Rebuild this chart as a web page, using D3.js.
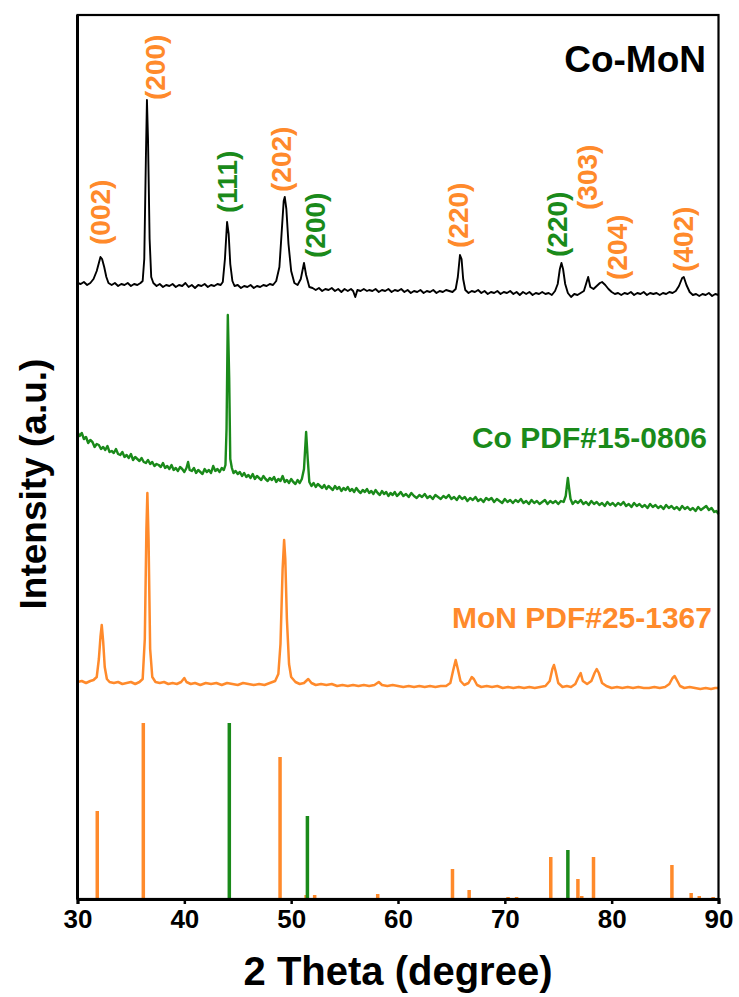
<!DOCTYPE html>
<html><head><meta charset="utf-8">
<script src="https://cdn.jsdelivr.net/npm/d3@7"></script>
<style>
html,body{margin:0;padding:0;background:#fff;}
svg{display:block;font-family:"Liberation Sans",Arial,sans-serif;font-weight:bold;}
</style></head>
<body><svg id="c" width="739" height="997"></svg>
<script>
// ---- data (2θ in degree, intensity in arbitrary stacked units) ----
const xTicks = [30, 40, 50, 60, 70, 80, 90];
const xTitle = "2 Theta (degree)";
const yTitle = "Intensity (a.u.)";
const colorMoN = "#FF8A2B", colorCo = "#1A8A1A", colorCoMoN = "#000000";

const coMoN = [[30.0,616],[30.3,615],[30.6,617],[30.9,614],[31.2,616],[31.5,620],[31.8,628],[32.0,636],[32.15,642],[32.3,640],[32.5,632],[32.7,622],[32.9,616],[33.2,614],[33.5,616],[33.8,613],[34.1,615],[34.4,614],[34.7,616],[35.0,613],[35.3,615],[35.6,614],[35.9,616],[36.1,618],[36.25,640],[36.4,740],[36.5,799],[36.6,760],[36.75,660],[36.9,622],[37.1,616],[37.4,613],[37.7,615],[38.0,612],[38.3,614],[38.6,613],[38.9,615],[39.2,612],[39.5,614],[39.8,613],[40.1,616],[40.4,612],[40.7,614],[41.0,611],[41.3,614],[41.6,613],[41.9,615],[42.2,612],[42.5,614],[42.8,613],[43.1,615],[43.4,614],[43.6,617],[43.8,640],[44.0,677],[44.15,665],[44.3,635],[44.5,618],[44.7,613],[45.0,614],[45.3,611],[45.6,613],[45.9,612],[46.2,614],[46.5,611],[46.8,613],[47.1,612],[47.4,614],[47.7,613],[48.0,615],[48.3,614],[48.6,618],[48.9,632],[49.1,665],[49.3,698],[49.4,702],[49.55,690],[49.75,655],[50.0,628],[50.3,616],[50.6,614],[50.9,620],[51.2,636],[51.4,624],[51.7,612],[52.0,611],[52.3,609],[52.6,611],[52.9,608],[53.2,610],[53.5,609],[53.8,611],[54.1,608],[54.4,610],[54.7,607],[55.0,610],[55.3,608],[55.6,610],[55.8,608],[56.0,602],[56.2,609],[56.5,608],[56.8,610],[57.1,608],[57.3,609],[57.6,608],[57.9,610],[58.2,607],[58.5,609],[58.8,608],[59.1,610],[59.4,607],[59.7,609],[60.0,608],[60.3,610],[60.6,607],[60.9,609],[61.2,606],[61.5,608],[61.8,607],[62.1,609],[62.4,606],[62.7,608],[63.0,607],[63.3,609],[63.6,606],[63.9,608],[64.2,607],[64.5,609],[64.8,608],[65.1,607],[65.4,610],[65.6,622],[65.8,644],[65.95,640],[66.1,620],[66.3,609],[66.6,606],[66.9,608],[67.2,607],[67.5,609],[67.8,606],[68.1,608],[68.4,605],[68.7,607],[69.0,606],[69.3,608],[69.6,605],[69.9,607],[70.2,606],[70.5,608],[70.8,605],[71.1,607],[71.4,604],[71.7,607],[72.0,605],[72.3,607],[72.6,604],[72.9,606],[73.2,605],[73.5,607],[73.8,605],[74.1,606],[74.4,604],[74.7,608],[74.95,615],[75.15,630],[75.3,636],[75.45,630],[75.65,615],[75.9,606],[76.2,602],[76.5,605],[76.8,604],[77.1,606],[77.4,608],[77.6,615],[77.8,622],[78.0,612],[78.3,610],[78.6,613],[78.9,616],[79.1,617],[79.4,614],[79.7,610],[80.0,607],[80.3,605],[80.6,606],[80.9,604],[81.2,606],[81.5,605],[81.8,607],[82.1,604],[82.4,606],[82.7,605],[83.0,607],[83.3,604],[83.6,606],[83.9,605],[84.2,606],[84.5,604],[84.8,606],[85.1,605],[85.4,607],[85.7,606],[86.0,608],[86.3,613],[86.6,621],[86.75,622],[87.0,614],[87.3,607],[87.6,604],[87.9,605],[88.2,603],[88.5,605],[88.8,604],[89.1,606],[89.4,603],[89.7,605],[90.0,604]];

const coRef = [[30.0,467],[30.2,463],[30.4,466],[30.6,460],[30.8,462],[31.0,456],[31.2,459],[31.4,457],[31.6,452],[31.8,455],[32.0,454],[32.2,450],[32.4,452],[32.6,449],[32.8,453],[33.0,447],[33.2,448],[33.4,446],[33.6,450],[33.8,445],[34.0,444],[34.2,447],[34.4,442],[34.6,444],[34.8,441],[35.0,445],[35.2,439],[35.4,442],[35.6,440],[35.8,438],[36.0,441],[36.2,437],[36.4,436],[36.6,439],[36.8,435],[37.0,437],[37.2,433],[37.4,435],[37.6,434],[37.8,432],[38.0,436],[38.2,431],[38.4,433],[38.6,430],[38.8,434],[39.0,429],[39.2,431],[39.4,428],[39.6,432],[39.8,430],[40.0,427],[40.2,431],[40.35,437],[40.5,429],[40.7,428],[40.9,431],[41.1,426],[41.3,429],[41.5,427],[41.7,425],[41.9,430],[42.1,427],[42.3,429],[42.5,426],[42.7,433],[42.9,428],[43.1,430],[43.3,427],[43.5,431],[43.7,429],[43.85,434],[43.95,470],[44.07,584],[44.2,520],[44.3,440],[44.45,431],[44.6,426],[44.8,428],[45.0,425],[45.2,427],[45.4,423],[45.6,426],[45.8,422],[46.0,424],[46.2,421],[46.4,425],[46.6,420],[46.8,423],[47.0,421],[47.2,419],[47.4,423],[47.6,420],[47.8,418],[48.0,421],[48.2,419],[48.4,422],[48.6,417],[48.8,420],[49.0,418],[49.2,423],[49.4,417],[49.6,419],[49.8,416],[50.0,420],[50.2,417],[50.4,415],[50.6,419],[50.8,416],[51.0,420],[51.2,430],[51.4,467],[51.55,440],[51.7,417],[51.9,413],[52.1,416],[52.3,412],[52.5,415],[52.7,413],[52.9,411],[53.1,414],[53.3,410],[53.5,413],[53.7,411],[53.9,409],[54.1,413],[54.3,410],[54.5,412],[54.7,408],[54.9,411],[55.1,409],[55.3,412],[55.5,408],[55.7,410],[55.9,407],[56.1,411],[56.3,408],[56.5,406],[56.7,409],[56.9,407],[57.1,410],[57.3,406],[57.5,408],[57.7,405],[57.9,409],[58.1,406],[58.3,404],[58.5,408],[58.7,405],[58.9,407],[59.1,403],[59.3,406],[59.5,404],[59.7,407],[59.9,403],[60.1,405],[60.25,407],[60.5,403],[60.75,405],[61.0,402],[61.25,406],[61.5,403],[61.75,401],[62.0,404],[62.25,402],[62.5,405],[62.75,401],[63.0,403],[63.25,400],[63.5,404],[63.75,402],[64.0,400],[64.25,403],[64.5,401],[64.75,404],[65.0,400],[65.25,402],[65.5,399],[65.75,403],[66.0,400],[66.25,402],[66.5,398],[66.75,401],[67.0,399],[67.25,402],[67.5,398],[67.75,400],[68.0,397],[68.25,401],[68.5,399],[68.75,401],[69.0,397],[69.25,400],[69.5,398],[69.75,396],[70.0,400],[70.25,397],[70.5,399],[70.75,396],[71.0,399],[71.25,397],[71.5,400],[71.75,396],[72.0,398],[72.25,395],[72.5,399],[72.75,396],[73.0,398],[73.25,395],[73.5,397],[73.75,399],[74.0,395],[74.25,398],[74.5,396],[74.75,398],[75.0,395],[75.25,398],[75.5,397],[75.7,403],[75.8,412],[75.9,421],[76.0,412],[76.15,400],[76.35,395],[76.6,398],[76.85,396],[77.1,399],[77.35,395],[77.6,397],[77.85,394],[78.1,398],[78.35,395],[78.6,397],[78.85,394],[79.1,396],[79.35,393],[79.6,397],[79.85,394],[80.1,396],[80.35,393],[80.6,396],[80.85,394],[81.1,397],[81.35,393],[81.6,395],[81.85,392],[82.1,396],[82.35,393],[82.6,395],[82.85,392],[83.1,394],[83.35,391],[83.6,395],[83.85,392],[84.1,394],[84.35,391],[84.6,393],[84.85,390],[85.1,394],[85.35,391],[85.6,393],[85.85,390],[86.1,392],[86.35,389],[86.6,393],[86.85,390],[87.1,392],[87.35,389],[87.6,391],[87.85,388],[88.1,392],[88.35,389],[88.6,391],[88.85,393],[89.1,389],[89.35,391],[89.6,387],[89.8,388],[90.0,385]];

const monRef = [[30.0,217],[30.4,218],[30.8,216],[31.2,218],[31.5,219],[31.8,222],[32.0,240],[32.15,262],[32.27,274],[32.4,258],[32.55,232],[32.75,220],[33.0,217],[33.4,216],[33.8,217],[34.2,215],[34.6,216],[35.0,217],[35.4,215],[35.8,217],[36.1,220],[36.3,260],[36.45,370],[36.54,406],[36.65,360],[36.8,250],[37.0,222],[37.3,217],[37.7,216],[38.1,217],[38.5,215],[38.9,216],[39.3,215],[39.7,217],[40.0,221],[40.2,217],[40.6,215],[41.0,216],[41.5,214],[42.0,216],[42.5,215],[43.0,216],[43.5,214],[44.0,216],[44.5,215],[45.0,214],[45.5,216],[46.0,215],[46.5,214],[47.0,215],[47.5,214],[48.0,216],[48.5,218],[48.8,225],[49.0,255],[49.2,330],[49.34,359],[49.45,340],[49.6,280],[49.8,235],[50.0,222],[50.4,217],[50.8,215],[51.2,216],[51.6,220],[51.9,216],[52.3,214],[52.8,215],[53.3,214],[53.8,215],[54.3,213],[54.8,214],[55.3,213],[55.8,214],[56.3,213],[56.8,214],[57.3,213],[57.8,214],[58.2,217],[58.5,214],[59.0,213],[59.5,214],[60.0,213],[60.5,212],[61.0,213],[61.5,212],[62.0,213],[62.5,212],[63.0,213],[63.5,212],[64.0,213],[64.5,213],[64.9,216],[65.15,228],[65.4,239],[65.6,230],[65.85,218],[66.2,214],[66.6,216],[66.9,222],[67.1,220],[67.4,214],[67.8,212],[68.3,213],[68.8,212],[69.3,213],[69.8,211],[70.3,212],[70.8,211],[71.3,212],[71.8,211],[72.3,212],[72.8,211],[73.3,212],[73.8,213],[74.2,218],[74.45,230],[74.6,234],[74.75,228],[75.0,216],[75.4,212],[75.8,213],[76.2,212],[76.6,215],[76.9,222],[77.1,226],[77.3,218],[77.7,215],[78.1,218],[78.4,226],[78.6,230],[78.8,226],[79.1,216],[79.5,213],[80.0,211],[80.5,212],[81.0,211],[81.5,212],[82.0,211],[82.5,212],[83.0,211],[83.5,211],[84.0,212],[84.5,211],[85.0,212],[85.4,215],[85.7,221],[85.9,223],[86.1,219],[86.4,213],[86.8,211],[87.3,212],[87.8,211],[88.3,210],[88.8,211],[89.3,210],[89.7,211],[90.0,211]];

const monSticks = [[31.85,88],[36.16,176],[48.96,142],[51.4,4],[52.2,4],[58.1,5],[65.1,30],[66.66,9],[70.3,2],[71.1,2],[74.3,42],[76.84,20],[77.2,3],[78.3,42],[85.64,34],[87.44,6],[88.2,3],[89.5,2]];
const coSticks = [[44.21,176],[51.52,83],[75.9,49]];

// peak labels: [text, 2θ of label centre, intensity of label start, phase]
const peakLabels = [
  ["(002)", 32.1, 654, "MoN"],
  ["(200)", 37.26, 799, "MoN"],
  ["(111)", 44.0, 686, "Co"],
  ["(202)", 49.05, 707, "MoN"],
  ["(200)", 52.24, 641, "Co"],
  ["(220)", 65.63, 651, "MoN"],
  ["(220)", 74.9, 642, "Co"],
  ["(303)", 77.7, 689, "MoN"],
  ["(204)", 80.5, 619, "MoN"],
  ["(402)", 86.7, 627, "MoN"]
];
const seriesNames = [
  ["Co-MoN", 706, 72, "CoMoN", 37],
  ["Co PDF#15-0806", 707, 448, "Co", 30],
  ["MoN PDF#25-1367", 712, 628, "MoN", 30]
];

// ---- drawing ----
const W = 739, H = 997;
const m = {left: 77.5, right: 20.5, top: 15, bottom: 98};
const colorOf = {MoN: colorMoN, Co: colorCo, CoMoN: colorCoMoN};
const svg = d3.select("#c");
const x = d3.scaleLinear().domain([30, 90]).range([m.left, W - m.right]);
const y = d3.scaleLinear().domain([0, 884]).range([H - m.bottom, m.top]);

const line = d3.line().x(d => x(d[0])).y(d => y(d[1]));

svg.append("path").datum(monRef).attr("d", line)
  .attr("fill", "none").attr("stroke", colorMoN).attr("stroke-width", 2.5).attr("stroke-linejoin", "round");
svg.append("path").datum(coRef).attr("d", line)
  .attr("fill", "none").attr("stroke", colorCo).attr("stroke-width", 2.4).attr("stroke-linejoin", "round");
svg.append("path").datum(coMoN).attr("d", line)
  .attr("fill", "none").attr("stroke", colorCoMoN).attr("stroke-width", 1.9).attr("stroke-linejoin", "round");

svg.append("g").selectAll("line").data(monSticks).join("line")
  .attr("x1", d => x(d[0])).attr("x2", d => x(d[0]))
  .attr("y1", y(0)).attr("y2", d => y(d[1]))
  .attr("stroke", colorMoN).attr("stroke-width", 3.5);
svg.append("g").selectAll("line").data(coSticks).join("line")
  .attr("x1", d => x(d[0])).attr("x2", d => x(d[0]))
  .attr("y1", y(0)).attr("y2", d => y(d[1]))
  .attr("stroke", colorCo).attr("stroke-width", 3.5);

// peak labels
svg.append("g").selectAll("text").data(peakLabels).join("text")
  .attr("transform", d => `translate(${x(d[1])},${y(d[2])}) rotate(-90)`)
  .attr("dy", "0.36em")
  .attr("font-size", 28)
  .attr("fill", d => colorOf[d[3]])
  .text(d => d[0]);

// series names
svg.append("g").selectAll("text").data(seriesNames).join("text")
  .attr("x", d => d[1]).attr("y", d => d[2])
  .attr("text-anchor", "end")
  .attr("font-size", d => d[4])
  .attr("fill", d => colorOf[d[3]])
  .text(d => d[0]);

// frame
svg.append("rect").attr("x", m.left).attr("y", m.top)
  .attr("width", W - m.left - m.right).attr("height", H - m.top - m.bottom)
  .attr("fill", "none").attr("stroke", "#000").attr("stroke-width", 2.2);

// x axis
const xAxis = svg.append("g").attr("transform", `translate(0,${y(0)})`)
  .call(d3.axisBottom(x).tickValues(xTicks).tickSize(5).tickPadding(6).tickFormat(d3.format("d")));
xAxis.select(".domain").attr("stroke", "#000").attr("stroke-width", 3);
xAxis.selectAll(".tick line").attr("stroke", "#000").attr("stroke-width", 2.5);
xAxis.selectAll(".tick text").attr("font-size", 26).attr("font-family", "Liberation Sans, Arial, sans-serif")
  .attr("font-weight", "bold").attr("fill", "#000");

// left axis line
svg.append("line").attr("x1", m.left).attr("x2", m.left).attr("y1", m.top).attr("y2", y(0))
  .attr("stroke", "#000").attr("stroke-width", 3);

// titles
svg.append("text").attr("x", (m.left + W - m.right) / 2).attr("y", 985)
  .attr("text-anchor", "middle").attr("font-size", 40).attr("fill", "#000").text(xTitle);
svg.append("text").attr("transform", `translate(46,${484}) rotate(-90)`)
  .attr("text-anchor", "middle").attr("font-size", 37).attr("fill", "#000").text(yTitle);
</script>
</body></html>
